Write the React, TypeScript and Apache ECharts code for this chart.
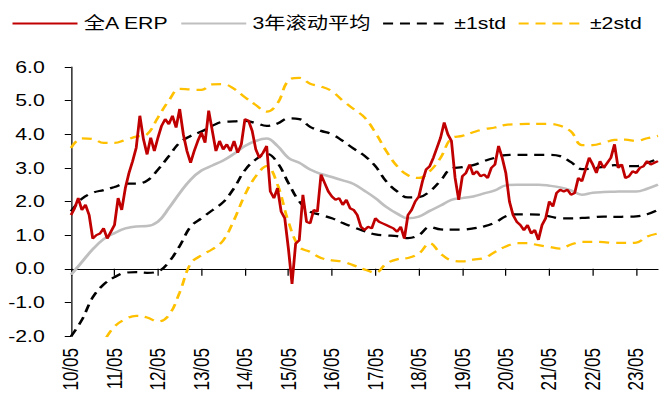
import React, { useEffect, useRef } from "react";
import * as echarts from "echarts";

// Monthly ERP of 全A, May 2010 .. Nov 2023 (one row per year starting in May)
const erpValues: number[] = [
  1.6, 1.8, 2.1, 1.75, 1.9, 1.6, 0.9, 1.0, 1.05, 1.2, 0.9, 1.1,
  1.3, 2.1, 1.75, 2.4, 2.85, 3.2, 3.6, 4.55, 3.85, 3.4, 3.9, 3.5,
  3.9, 4.25, 4.45, 4.3, 4.55, 4.2, 4.75, 4.0, 3.5, 3.15, 3.5, 3.8,
  4.05, 3.75, 4.7, 4.1, 3.5, 3.8, 3.55, 3.7, 3.5, 3.8, 3.45, 3.7,
  4.45, 4.4, 4.1, 3.55, 3.3, 3.45, 3.65, 2.3, 2.1, 2.4, 1.7, 1.5,
  0.6, -0.45, 0.75, 0.85, 2.2, 1.4, 1.35, 1.75, 1.7, 2.8, 2.55, 2.3,
  2.15, 2.05, 2.1, 1.9, 2.05, 1.8, 1.75, 1.6, 1.25, 1.15, 1.25, 1.2,
  1.5, 1.4, 1.35, 1.3, 1.25, 1.2, 1.1, 1.25, 0.9, 1.6, 1.75, 2.0,
  2.15, 2.6, 2.95, 3.05, 3.3, 3.6, 3.9, 4.35, 4.0, 3.8, 2.7, 2.05,
  2.75, 2.85, 3.1, 2.8, 2.9, 2.75, 2.8, 2.7, 3.0, 3.1, 3.65, 3.3,
  2.85, 2.0, 1.6, 1.4, 1.3, 1.15, 1.3, 1.05, 1.15, 0.86, 1.3, 1.5,
  2.0, 1.85, 2.25, 2.35, 2.3, 2.35, 2.2, 2.25, 2.7, 2.6, 2.95, 3.3,
  3.1, 2.85, 3.2, 3.0, 3.15, 3.3, 3.7, 3.0, 3.1, 2.7, 2.75, 2.9,
  2.85, 3.0, 3.05, 3.2, 3.1, 3.15, 3.2,
];

// Quarterly readings (every 3 months from May 2010)
const rollingMean: number[] = [
  -0.18, 0.2, 0.58, 0.88,
  1.06, 1.2, 1.26, 1.27,
  1.4, 1.8, 2.25, 2.65,
  2.92, 3.07, 3.22, 3.42,
  3.65, 3.8, 3.87, 3.65,
  3.3, 3.15, 2.95, 2.82,
  2.73, 2.63, 2.52, 2.32,
  2.1, 1.84, 1.64, 1.5,
  1.55, 1.72, 1.88, 2.05,
  2.1, 2.15, 2.24, 2.33,
  2.48, 2.5, 2.5, 2.5,
  2.47, 2.42, 2.33, 2.2,
  2.26, 2.28, 2.29, 2.3,
  2.3, 2.38, 2.5,
];

const upper1: number[] = [
  1.71, 2.08, 2.26, 2.34,
  2.43, 2.53, 2.53, 2.62,
  2.95, 3.35, 3.75, 3.95,
  4.08, 4.25, 4.37, 4.38,
  4.4, 4.33, 4.25, 4.32,
  4.47, 4.45, 4.22, 4.1,
  4.0, 3.8, 3.57, 3.36,
  3.05, 2.6, 2.3, 2.12,
  2.13, 2.3, 2.62, 2.98,
  3.02, 3.08, 3.2, 3.3,
  3.38, 3.39, 3.39, 3.39,
  3.39, 3.35, 3.17, 2.96,
  2.98, 3.04, 3.08, 3.06,
  3.05, 3.15, 3.27,
];

const lower1: number[] = [
  -2.01, -1.52, -0.85, -0.47,
  -0.25, -0.12, -0.1, -0.12,
  -0.08, 0.2, 0.68, 1.25,
  1.5, 1.74, 1.98, 2.4,
  2.93, 3.25, 3.42, 3.15,
  2.55, 2.0, 1.7, 1.6,
  1.5, 1.36, 1.23, 1.12,
  1.02, 0.99, 0.97, 0.91,
  1.0, 1.24, 1.17, 1.16,
  1.16, 1.2, 1.26, 1.37,
  1.56, 1.62, 1.62, 1.61,
  1.56, 1.5, 1.5, 1.51,
  1.53, 1.55, 1.54, 1.55,
  1.56, 1.62, 1.75,
];

const upper2: number[] = [
  3.59, 3.88, 3.86, 3.74,
  3.74, 3.83, 3.93, 4.0,
  4.5, 5.0, 5.35, 5.33,
  5.32, 5.48, 5.49, 5.35,
  5.1, 4.87, 4.67, 4.92,
  5.6, 5.68, 5.5, 5.42,
  5.28, 5.0, 4.75, 4.5,
  4.05, 3.5, 3.05, 2.78,
  2.7, 2.9, 3.3, 3.88,
  3.95, 4.06, 4.15, 4.2,
  4.28, 4.3, 4.31, 4.31,
  4.31, 4.25, 4.08, 3.68,
  3.68, 3.75, 3.83, 3.84,
  3.8, 3.88, 3.95,
];

const lower2: number[] = [
  -3.85, -3.1, -2.55, -2.15,
  -1.72, -1.5, -1.4, -1.45,
  -1.57, -1.38, -0.7, 0.15,
  0.4, 0.58, 0.84, 1.45,
  2.2, 2.75, 3.05, 2.5,
  1.4, 0.65, 0.5, 0.32,
  0.25, 0.21, 0.1, -0.02,
  -0.12, 0.15, 0.28, 0.32,
  0.45, 0.76, 0.45, 0.25,
  0.22, 0.27, 0.32, 0.5,
  0.66, 0.76, 0.76, 0.7,
  0.65, 0.6, 0.72, 0.8,
  0.8, 0.79, 0.77, 0.77,
  0.78, 0.96, 1.05,
];

const xTickLabels: string[] = [
  "10/05", "11/05", "12/05", "13/05", "14/05", "15/05", "16/05",
  "17/05", "18/05", "19/05", "20/05", "21/05", "22/05", "23/05",
];

const legendNames = ["全A ERP", "3年滚动平均", "±1std", "±2std"];

// month categories
const categories: string[] = [];
for (let i = 0; i < erpValues.length; i++) {
  const y = 2010 + Math.floor((4 + i) / 12);
  const m = ((4 + i) % 12) + 1;
  categories.push(`${y}-${String(m).padStart(2, "0")}`);
}
const bandMonths: number[] = rollingMean.map((_, i) => i * 3);
const pairs = (arr: number[]) => arr.map((v, i) => [bandMonths[i], v]);

const SX = 1.25; // horizontal stretch of the original picture
const W = 660 / SX;
const FONT = "'Liberation Sans', Arial, 'Noto Sans CJK SC', sans-serif";

export default function App() {
  const ref = useRef<HTMLDivElement>(null);
  useEffect(() => {
    if (!ref.current) return;
    const chart = echarts.init(ref.current, null, { renderer: "svg" });
    const dash = [8, 5.5];
    const tickEvery = (index: number) => index % 12 === 0;
    chart.setOption({
      animation: false,
      backgroundColor: "#fff",
      textStyle: { fontFamily: FONT },
      legend: {
        data: legendNames,
        left: 9,
        top: 15,
        padding: 0,
        itemWidth: 52,
        itemHeight: 14,
        itemGap: 9,
        itemStyle: { opacity: 0 },
        textStyle: { fontSize: 17, color: "#000", fontFamily: FONT },
      },
      grid: { left: 56.8, right: 1.6, top: 67, bottom: 65, containLabel: false },
      xAxis: [
        {
          type: "category",
          data: categories,
          boundaryGap: false,
          position: "bottom",
          axisLine: { show: false, onZero: false },
          axisTick: { show: false },
          axisLabel: {
            interval: tickEvery,
            rotate: 90,
            margin: 12,
            fontSize: 17,
            color: "#000",
            fontFamily: FONT,
            formatter: (_v: string, idx: number) => xTickLabels[Math.round(idx / 12)] ?? "",
          },
          splitLine: { show: false },
        },
        {
          type: "category",
          data: categories,
          boundaryGap: false,
          position: "bottom",
          axisLine: { show: true, onZero: true, lineStyle: { color: "#000", width: 1 } },
          axisTick: { show: true, interval: tickEvery, length: 7, lineStyle: { color: "#000", width: 1 } },
          axisLabel: { show: false },
          splitLine: { show: false },
        },
      ],
      yAxis: {
        type: "value",
        min: -2,
        max: 6,
        interval: 1,
        axisLine: { show: true, lineStyle: { color: "#000", width: 1 } },
        axisTick: { show: true, length: 5, lineStyle: { color: "#000", width: 1 } },
        axisLabel: {
          margin: 21,
          fontSize: 17,
          color: "#000",
          fontFamily: FONT,
          formatter: (v: number) => v.toFixed(1),
        },
        splitLine: { show: false },
      },
      series: [
        {
          name: "±2std", type: "line", data: pairs(upper2), smooth: 0.4, symbol: "none",
          lineStyle: { color: "#FFC000", width: 2.25, type: dash }, itemStyle: { color: "#FFC000" },
        },
        {
          name: "±2std", type: "line", data: pairs(lower2), smooth: 0.4, symbol: "none",
          lineStyle: { color: "#FFC000", width: 2.25, type: dash }, itemStyle: { color: "#FFC000" },
        },
        {
          name: "±1std", type: "line", data: pairs(upper1), smooth: 0.4, symbol: "none",
          lineStyle: { color: "#000000", width: 2.25, type: dash }, itemStyle: { color: "#000000" },
        },
        {
          name: "±1std", type: "line", data: pairs(lower1), smooth: 0.4, symbol: "none",
          lineStyle: { color: "#000000", width: 2.25, type: dash }, itemStyle: { color: "#000000" },
        },
        {
          name: "3年滚动平均", type: "line", data: pairs(rollingMean), smooth: 0.4, symbol: "none",
          lineStyle: { color: "#BFBFBF", width: 2.5 }, itemStyle: { color: "#BFBFBF" },
        },
        {
          name: "全A ERP", type: "line", data: erpValues, symbol: "none",
          lineStyle: { color: "#C00000", width: 2.25 }, itemStyle: { color: "#C00000" },
        },
      ],
    });
    return () => chart.dispose();
  }, []);

  return (
    <div
      style={{
        position: "fixed",
        left: 0,
        top: 0,
        width: 660,
        height: 401,
        overflow: "hidden",
        background: "#fff",
      }}
    >
      <div
        ref={ref}
        style={{
          width: W,
          height: 401,
          transform: `scaleX(${SX})`,
          transformOrigin: "0 0",
        }}
      />
    </div>
  );
}
